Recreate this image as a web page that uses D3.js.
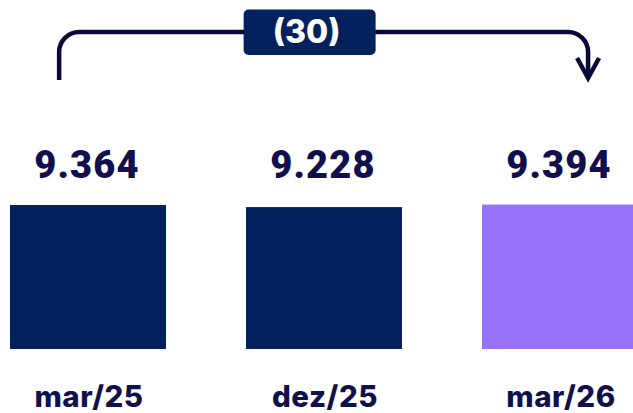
<!DOCTYPE html>
<html>
<head>
<meta charset="utf-8">
<script src="https://cdn.jsdelivr.net/npm/d3@7"></script>
<style>
  body { margin: 0; background: #fff; }
  svg { display: block; }
</style>
</head>
<body>
<svg width="633" height="413"></svg>
<script>
var categories = ["mar/25", "dez/25", "mar/26"];
var values = [9.364, 9.228, 9.394];
var valueLabels = ["9.364", "9.228", "9.394"];
var barColors = ["#03215d", "#03215d", "#9673f8"];
var deltaLabel = "(30)";

var svg = d3.select("svg"),
    width = +svg.attr("width"),
    height = +svg.attr("height");

var ink = "#0a0a38";
var textInk = "#10104e";

var x = d3.scaleBand()
    .domain(categories)
    .range([10, 638])
    .paddingInner(80 / 236)
    .paddingOuter(0);

var y = d3.scaleLinear()
    .domain([0, 10])
    .range([349, 349 - 153.78]);

var g = svg.append("g");

// bars
g.selectAll("rect.bar")
  .data(categories)
  .enter().append("rect")
    .attr("class", "bar")
    .attr("x", function(d) { return x(d); })
    .attr("width", x.bandwidth())
    .attr("y", function(d, i) { return y(values[i]); })
    .attr("height", function(d, i) { return y(0) - y(values[i]); })
    .attr("fill", function(d, i) { return barColors[i]; });

// value labels
g.selectAll("text.val")
  .data(categories)
  .enter().append("text")
    .attr("class", "val")
    .attr("x", function(d) { return x(d) + x.bandwidth() / 2 - 1; })
    .attr("y", 178)
    .attr("text-anchor", "middle")
    .attr("font-family", "Roboto, sans-serif")
    .attr("font-weight", 900)
    .attr("font-size", 38)
    .attr("letter-spacing", 1.2)
    .attr("fill", textInk)
    .text(function(d, i) { return valueLabels[i]; });

// category labels
g.selectAll("text.cat")
  .data(categories)
  .enter().append("text")
    .attr("class", "cat")
    .attr("x", function(d) { return x(d) + x.bandwidth() / 2 + 1; })
    .attr("y", 407)
    .attr("text-anchor", "middle")
    .attr("font-family", "Inter, Roboto, sans-serif")
    .attr("font-weight", 800)
    .attr("font-size", 29.5)
    .attr("letter-spacing", 0.5)
    .attr("fill", textInk)
    .text(function(d) { return d; });

// bracket annotation from first to last bar
var bx0 = x(categories[0]) + x.bandwidth() * 0.315,
    bx1 = x(categories[2]) + x.bandwidth() * 0.68,
    bTop = 32, r = 20;

var p = d3.path();
p.moveTo(bx0, 80);
p.lineTo(bx0, bTop + r);
p.arcTo(bx0, bTop, bx0 + r, bTop, r);
p.lineTo(bx1 - r, bTop);
p.arcTo(bx1, bTop, bx1, bTop + r, r);
p.lineTo(bx1, 77);

svg.append("path")
    .attr("d", p.toString())
    .attr("fill", "none")
    .attr("stroke", ink)
    .attr("stroke-width", 4.5);

svg.append("path")
    .attr("d", "M" + (bx1 - 11) + ",58L" + bx1 + ",78L" + (bx1 + 11) + ",58")
    .attr("fill", "none")
    .attr("stroke", ink)
    .attr("stroke-width", 4.5)
    .attr("stroke-linejoin", "miter");

var mid = (bx0 + bx1) / 2 - 14;
svg.append("rect")
    .attr("x", mid - 66)
    .attr("y", 9.5)
    .attr("width", 132)
    .attr("height", 45.5)
    .attr("rx", 5)
    .attr("fill", "#03215d");

svg.append("text")
    .attr("x", mid - 3)
    .attr("y", 43)
    .attr("text-anchor", "middle")
    .attr("font-family", "Inter, Roboto, sans-serif")
    .attr("font-weight", 800)
    .attr("font-size", 32)
    .attr("fill", "#fff")
    .text(deltaLabel);
</script>
</body>
</html>
